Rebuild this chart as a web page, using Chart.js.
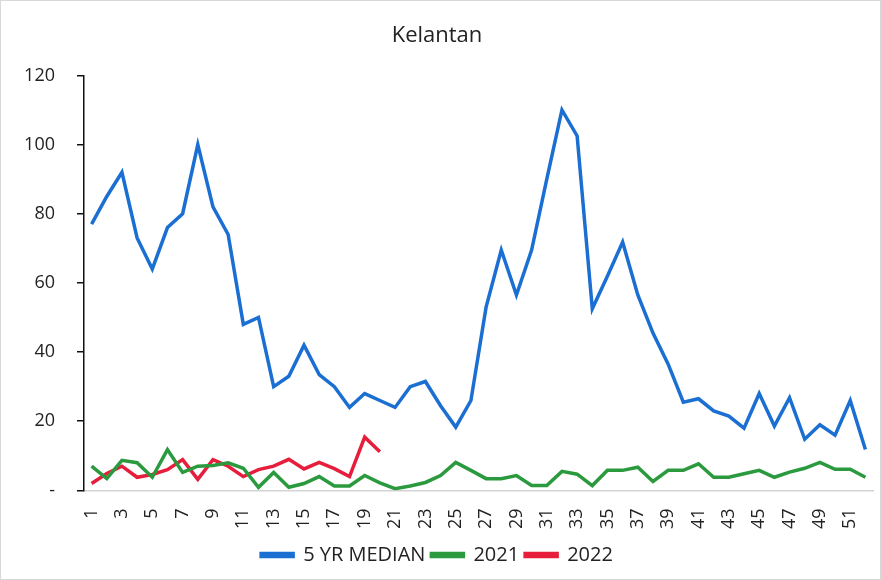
<!DOCTYPE html>
<html>
<head>
<meta charset="utf-8">
<script src="https://cdn.jsdelivr.net/npm/chart.js@4"></script>
<style>
  html, body { margin: 0; padding: 0; background: #fff; }
  #wrap { width: 881px; height: 580px; position: relative; box-sizing: border-box; border: 1px solid #d8d8d8; }
</style>
</head>
<body>
<div id="wrap"><canvas id="kelantan"></canvas></div>
<script>
'use strict';

var weeks = [];
for (var w = 1; w <= 52; w++) { weeks.push(String(w)); }

var median5yr = [77, 85, 92, 73, 64, 76, 80, 100, 82, 74,
                 48, 50, 30, 33, 42, 33.5, 30, 24, 28, 26,
                 24, 30, 31.5, 24.5, 18.3, 26, 53, 69.5, 56.5, 69.5,
                 90, 110, 102.5, 52.5, 62, 71.8, 56.5, 45.5, 36.5, 25.5,
                 26.5, 23, 21.5, 18, 28, 18.6, 26.8, 14.8, 19, 16,
                 26, 11.8];

var y2021 = [7, 3.4, 8.7, 8, 3.8, 11.8, 5.2, 7, 7.2, 8,
             6.4, 0.9, 5.2, 0.9, 2, 4, 1.3, 1.3, 4.3, 2.2,
             0.5, 1.3, 2.3, 4.3, 8.1, 5.8, 3.4, 3.4, 4.3, 1.4,
             1.4, 5.5, 4.7, 1.4, 5.8, 5.8, 6.7, 2.6, 5.8, 5.8,
             7.7, 3.8, 3.8, 4.8, 5.8, 3.8, 5.3, 6.4, 8.1, 6.1,
             6.1, 3.8];

var y2022 = [2, 4.9, 7, 3.8, 4.6, 6, 8.9, 3.2, 8.9, 7,
             4, 6, 7, 9, 6.2, 8.1, 6.3, 4, 15.4, 11.2];

var yTicks = [0, 20, 40, 60, 80, 100, 120];

var config = {
    type: 'line',
    data: {
        labels: weeks,
        datasets: [{
            label: '5 YR MEDIAN',
            data: median5yr,
            borderColor: '#1b6fd3',
            backgroundColor: '#1b6fd3',
            borderWidth: 3.5,
            pointRadius: 0,
            tension: 0
        }, {
            label: '2021',
            data: y2021,
            borderColor: '#2b9a3f',
            backgroundColor: '#2b9a3f',
            borderWidth: 3.5,
            pointRadius: 0,
            tension: 0
        }, {
            label: '2022',
            data: y2022,
            borderColor: '#e61e3c',
            backgroundColor: '#e61e3c',
            borderWidth: 3.5,
            pointRadius: 0,
            tension: 0
        }]
    },
    options: {
        responsive: true,
        maintainAspectRatio: false,
        animation: false,
        layout: { padding: { left: 0, right: 7, top: 10, bottom: 4 } },
        plugins: {
            title: {
                display: true,
                text: 'Kelantan',
                color: '#222',
                font: { family: 'Open Sans', size: 22, weight: 'normal' },
                padding: { top: 12, bottom: 26 }
            },
            legend: {
                position: 'bottom',
                labels: {
                    color: '#222',
                    font: { family: 'Open Sans', size: 20 },
                    boxWidth: 32,
                    boxHeight: 3,
                    padding: 6
                }
            },
            tooltip: { enabled: false }
        },
        scales: {
            x: {
                offset: true,
                grid: { display: false },
                border: { display: true, color: '#d4d4d4', width: 1.5 },
                afterFit: function (scale) {
                    scale.paddingLeft = 0;
                    scale.paddingRight = 0;
                },
                ticks: {
                    autoSkip: false,
                    minRotation: 90,
                    maxRotation: 90,
                    padding: 10,
                    color: '#222',
                    font: { family: 'Open Sans', size: 18 },
                    callback: function (val, idx) {
                        return idx % 2 === 0 ? weeks[idx] : '';
                    }
                }
            },
            y: {
                min: 0,
                max: 120,
                afterBuildTicks: function (scale) {
                    scale.ticks = yTicks.map(function (v) { return { value: v }; });
                },
                afterFit: function (scale) { scale.width = 83; },
                grid: {
                    drawOnChartArea: false,
                    drawTicks: true,
                    tickLength: 7,
                    color: '#111',
                    lineWidth: 1.5
                },
                border: { display: true, color: '#111', width: 1.5 },
                ticks: {
                    color: '#222',
                    padding: 22,
                    font: { family: 'Open Sans', size: 18 },
                    callback: function (v) { return v === 0 ? '-' : v; }
                }
            }
        }
    }
};

window.onload = function () {
    var ctx = document.getElementById('kelantan').getContext('2d');
    window.kelantanChart = new Chart(ctx, config);
};
</script>
</body>
</html>
